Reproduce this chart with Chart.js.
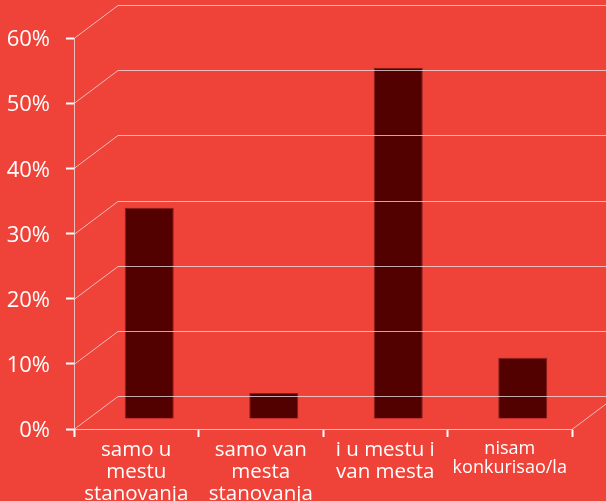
<!DOCTYPE html>
<html>
<head>
<meta charset="utf-8">
<script src="https://cdn.jsdelivr.net/npm/chart.js@4/dist/chart.umd.min.js"></script>
<style>
  html, body { margin: 0; padding: 0; background: #EF4238; }
  #wrap { width: 606px; height: 501px; }
</style>
</head>
<body>
<div id="wrap"><canvas id="c" width="606" height="501"></canvas></div>
<script>
const categories = [
  ["samo u", "mestu", "stanovanja"],
  ["samo van", "mesta", "stanovanja"],
  ["i u mestu i", "van mesta"],
  ["nisam", "konkurisao/la"]
];
const values = [32.4, 4.0, 53.9, 9.4];
const yTicks = [0, 10, 20, 30, 40, 50, 60];

const BG = '#EF4238';
const BAR = '#520000';
const GRID = 'rgba(240,236,240,0.72)';
const DEPTH_X = 44, DEPTH_Y = -33;    // back wall offset
const BAR_X = 13, BAR_Y = -10;        // bar plane offset

const perspective = {
  id: 'perspective',
  beforeDatasetsDraw(chart) {
    chart.ctx.save();
    chart.ctx.translate(BAR_X, BAR_Y);
  },
  afterDatasetsDraw(chart) {
    const ctx = chart.ctx;
    ctx.restore();
    const y = chart.scales.y, a = chart.chartArea;
    ctx.save();
    ctx.strokeStyle = GRID;
    ctx.lineWidth = 1;
    yTicks.forEach(v => {
      const py = Math.round(y.getPixelForValue(v)) + 0.5;
      ctx.beginPath();
      ctx.moveTo(a.left, py);
      ctx.lineTo(a.left + DEPTH_X, py + DEPTH_Y);
      ctx.lineTo(chart.width, py + DEPTH_Y);
      ctx.stroke();
    });
    const p0 = Math.round(y.getPixelForValue(0)) + 0.5;
    ctx.beginPath();
    ctx.moveTo(a.right, p0);
    ctx.lineTo(a.right + DEPTH_X, p0 + DEPTH_Y);
    ctx.stroke();
    ctx.restore();
  }
};

new Chart(document.getElementById('c'), {
  type: 'bar',
  data: {
    labels: categories,
    datasets: [{
      data: values,
      backgroundColor: BAR,
      borderColor: 'rgba(120,30,30,0.9)',
      borderWidth: 1,
      barPercentage: 0.394,
      categoryPercentage: 1.0,
      clip: false
    }]
  },
  plugins: [perspective],
  options: {
    responsive: false,
    animation: false,
    devicePixelRatio: 1,
    layout: { padding: { top: 38, right: 34, left: 0, bottom: 0 } },
    plugins: { legend: { display: false }, tooltip: { enabled: false } },
    scales: {
      x: {
        grid: { display: true, drawOnChartArea: false, offset: true, tickLength: 8, tickColor: '#ffffff', tickWidth: 2 },
        border: { display: true, color: GRID, width: 1 },
        ticks: {
          color: '#ffffff',
          maxRotation: 0,
          autoSkip: false,
          padding: 2,
          font: (ctx) => ({ family: 'Open Sans', size: ctx.index === 3 ? 18 : 20.5, lineHeight: 1.08 })
        },
        afterFit(s) { s.height = 72; }
      },
      y: {
        min: 0, max: 60,
        grid: { display: true, drawOnChartArea: false, tickLength: 8, tickColor: '#ffffff', tickWidth: 2 },
        border: { display: true, color: GRID, width: 1 },
        ticks: {
          stepSize: 10,
          color: '#ffffff',
          padding: 16,
          labelOffset: 2,
          font: { family: 'Open Sans', size: 22 },
          callback: v => v + '%'
        },
        afterFit(s) { s.width = 74; }
      }
    }
  }
});
</script>
</body>
</html>
